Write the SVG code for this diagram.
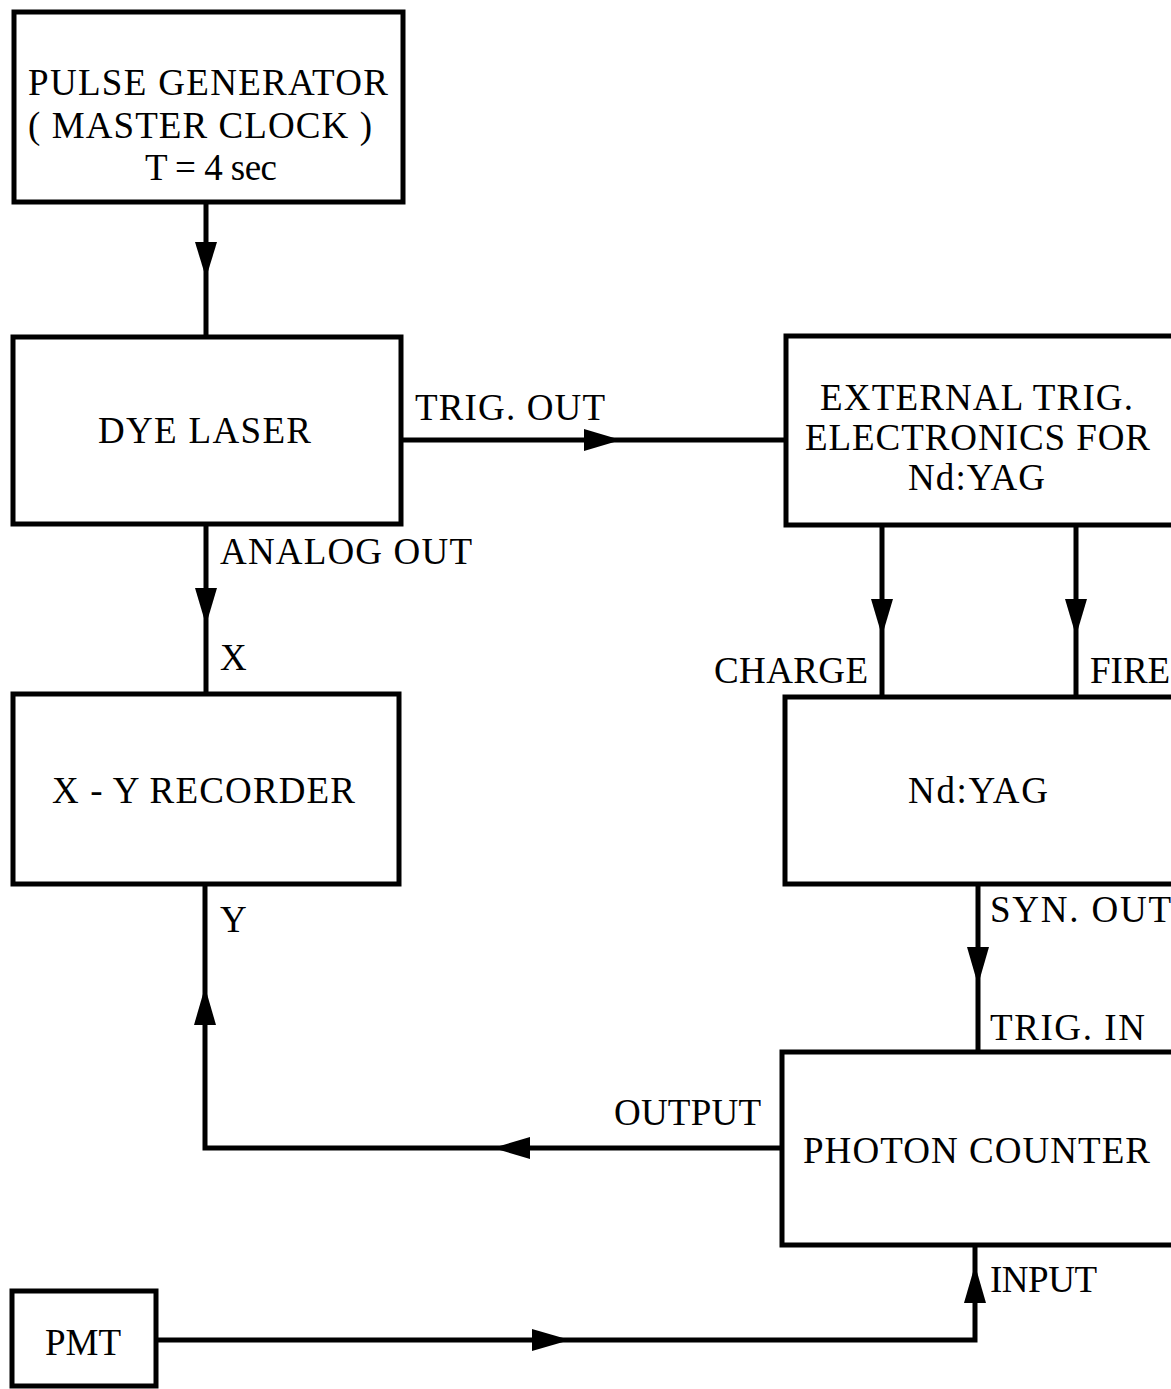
<svg xmlns="http://www.w3.org/2000/svg" width="1171" height="1389" viewBox="0 0 1171 1389">
<style>
.box{fill:none;stroke:#000;stroke-width:5}
.ln{fill:none;stroke:#000;stroke-width:5;stroke-linejoin:miter}
.ah{fill:#000}
text{font-family:"Liberation Serif","Times New Roman",serif;font-size:37px;fill:#000}
</style>
<rect width="1171" height="1389" fill="#fff"/>
<g id="connectors">
<path class="ln" d="M206,202 V337"/>
<polygon class="ah" points="195,242 217,242 206,278"/>
<path class="ln" d="M401,440 H786"/>
<polygon class="ah" points="584,429 584,451 621,440"/>
<path class="ln" d="M206,524 V694"/>
<polygon class="ah" points="195,588 217,588 206,625"/>
<path class="ln" d="M882,525 V697"/>
<polygon class="ah" points="871,599 893,599 882,636"/>
<path class="ln" d="M1076,525 V697"/>
<polygon class="ah" points="1065,599 1087,599 1076,636"/>
<path class="ln" d="M978,884 V1052"/>
<polygon class="ah" points="967,947 989,947 978,985"/>
<path class="ln" d="M782,1148 H205 V884"/>
<polygon class="ah" points="530,1137 530,1159 493,1148"/>
<polygon class="ah" points="194,1025 216,1025 205,987"/>
<path class="ln" d="M156,1340 H975 V1245"/>
<polygon class="ah" points="532,1329 532,1351 570,1340"/>
<polygon class="ah" points="964,1303 986,1303 975,1265"/>
</g>
<g id="pulse_generator">
<rect class="box" x="14" y="12" width="389" height="190"/>
<text x="28" y="95" textLength="360" lengthAdjust="spacing">PULSE  GENERATOR</text>
<text x="28" y="138" textLength="344" lengthAdjust="spacing">( MASTER  CLOCK )</text>
<text x="145" y="180" textLength="132" lengthAdjust="spacing">T = 4 sec</text>
</g>
<g id="dye_laser">
<rect class="box" x="13" y="337" width="388" height="187"/>
<text x="98" y="443" textLength="213" lengthAdjust="spacing">DYE  LASER</text>
</g>
<g id="external_trig">
<rect class="box" x="786" y="336" width="400" height="189"/>
<text x="820" y="410" textLength="313" lengthAdjust="spacing">EXTERNAL  TRIG.</text>
<text x="805" y="450" textLength="345" lengthAdjust="spacing">ELECTRONICS  FOR</text>
<text x="908" y="490" textLength="137" lengthAdjust="spacing">Nd:YAG</text>
</g>
<g id="xy_recorder">
<rect class="box" x="13" y="694" width="386" height="190"/>
<text x="52" y="803" textLength="303" lengthAdjust="spacing">X - Y  RECORDER</text>
</g>
<g id="nd_yag">
<rect class="box" x="785" y="697" width="400" height="187"/>
<text x="908" y="803" textLength="140" lengthAdjust="spacing">Nd:YAG</text>
</g>
<g id="photon_counter">
<rect class="box" x="782" y="1052" width="400" height="193"/>
<text x="803" y="1163" textLength="347" lengthAdjust="spacing">PHOTON  COUNTER</text>
</g>
<g id="pmt">
<rect class="box" x="12" y="1291" width="144" height="95"/>
<text x="45" y="1355" textLength="76" lengthAdjust="spacing">PMT</text>
</g>
<g id="labels">
<text x="415" y="420" textLength="190" lengthAdjust="spacing">TRIG.  OUT</text>
<text x="220" y="564" textLength="252" lengthAdjust="spacing">ANALOG  OUT</text>
<text x="220" y="670">X</text>
<text x="714" y="683" textLength="154" lengthAdjust="spacing">CHARGE</text>
<text x="1090" y="683">FIRE</text>
<text x="220" y="932">Y</text>
<text x="990" y="922" textLength="181" lengthAdjust="spacing">SYN.  OUT</text>
<text x="990" y="1040" textLength="155" lengthAdjust="spacing">TRIG.  IN</text>
<text x="614" y="1125" textLength="147" lengthAdjust="spacing">OUTPUT</text>
<text x="990" y="1292" textLength="107" lengthAdjust="spacing">INPUT</text>
</g>
</svg>
